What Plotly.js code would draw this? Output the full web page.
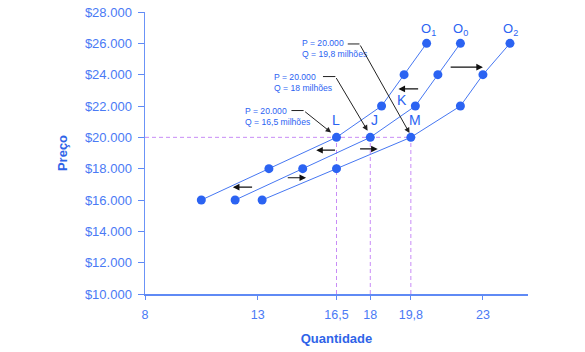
<!DOCTYPE html>
<html>
<head>
<meta charset="utf-8">
<script src="https://cdn.plot.ly/plotly-3.0.1.min.js"></script>
<style>html,body{margin:0;padding:0;background:#fff;}#chart{width:585px;height:352px;}</style>
</head>
<body>
<div id="chart"></div>
<script>
// ---- data ----
var prices = [16000, 18000, 20000, 22000, 24000, 26000];
var qO1 = [10.5, 13.5, 16.5, 18.5, 19.5, 20.5];
var qO0 = [12, 15, 18, 20, 21, 22];
var qO2 = [13.2, 16.5, 19.8, 22, 23, 24.2];
var curveNames = ["O<sub>1</sub>", "O<sub>0</sub>", "O<sub>2</sub>"];

var eqPrice = 20000;
var eqQty = [16.5, 18, 19.8];
var eqLetters = ["L", "J", "M"];
var eqLetterX = [16.49, 18.19, 19.97];
var eqLetterY = 21080;

var xTickVals = [8, 13, 16.5, 18, 19.8, 23];
var xTickText = ["8", "13", "16,5", "18", "19,8", "23"];
var yTickVals = [10000, 12000, 14000, 16000, 18000, 20000, 22000, 24000, 26000, 28000];
var yTickText = ["$10.000", "$12.000", "$14.000", "$16.000", "$18.000", "$20.000", "$22.000", "$24.000", "$26.000", "$28.000"];

var calloutText = [
  "P = 20.000<br>Q = 16,5 milhões",
  "P = 20.000<br>Q = 18 milhões",
  "P = 20.000<br>Q = 19,8 milhões"
];
// text anchor (left, middle)
var calloutTextX = [12.37, 13.63, 14.87];
var calloutTextY = [21350, 23530, 25650];
// bent leader line: start, bend, tip
var calloutStartX = [14.5, 15.9, 17.0];
var calloutBendX = [15.04, 16.45, 17.52];
var calloutLineY = [21710, 23880, 25960];
var calloutTipX = [16.26, 17.88, 19.74];
var calloutTipY = [20310, 20420, 20270];

// shift arrows (tail -> head)
var shiftTailX = [16.5, 17.48, 12.82, 14.27, 20.19, 21.5];
var shiftHeadX = [15.6, 18.33, 11.9, 15.15, 19.25, 23.0];
var shiftY = [19180, 19260, 16820, 17420, 23090, 24480];

var kLabel = {text: "K", x: 19.41, y: 22390};
var curveLabelX = [20.57, 22.0, 24.22];
var curveLabelY = 26900;

// ---- styles ----
var blue = "#2b63f2";
var lineBlue = "#4677f2";
var tickBlue = "#4a7af5";
var dashCol = "#c88cf6";
var fam = "Liberation Sans, Arial, sans-serif";

var traces = [];
// dashed guides
traces.push({x: [8, eqQty[2]], y: [eqPrice, eqPrice], mode: "lines",
  line: {color: dashCol, width: 1, dash: "4px,3px"}, hoverinfo: "skip", showlegend: false});
eqQty.forEach(function (q) {
  traces.push({x: [q, q], y: [10000, eqPrice], mode: "lines",
    line: {color: dashCol, width: 1, dash: "4px,3px"}, hoverinfo: "skip", showlegend: false});
});
// callout horizontal segments
for (var i = 0; i < calloutText.length; i++) {
  traces.push({x: [calloutStartX[i], calloutBendX[i]], y: [calloutLineY[i], calloutLineY[i]],
    mode: "lines", line: {color: "#222", width: 1}, hoverinfo: "skip", showlegend: false});
}
// supply curves
[qO1, qO0, qO2].forEach(function (q, k) {
  traces.push({x: q, y: prices, mode: "lines+markers", name: curveNames[k],
    line: {color: lineBlue, width: 1}, marker: {color: blue, size: 9}, showlegend: false, cliponaxis: false});
});

var ann = [];
for (var i = 0; i < calloutText.length; i++) {
  ann.push({text: calloutText[i], x: calloutTextX[i], y: calloutTextY[i], xref: "x", yref: "y",
    xanchor: "left", yanchor: "middle", align: "left", showarrow: false,
    font: {family: fam, size: 8.6, color: blue}});
  ann.push({text: "", x: calloutTipX[i], y: calloutTipY[i], ax: calloutBendX[i], ay: calloutLineY[i],
    xref: "x", yref: "y", axref: "x", ayref: "y", showarrow: true, arrowhead: 2, arrowsize: 1.1,
    arrowwidth: 1, arrowcolor: "#222", standoff: 0});
}
for (var j = 0; j < shiftY.length; j++) {
  ann.push({text: "", x: shiftHeadX[j], y: shiftY[j], ax: shiftTailX[j], ay: shiftY[j],
    xref: "x", yref: "y", axref: "x", ayref: "y", showarrow: true, arrowhead: 2, arrowsize: 1.1,
    arrowwidth: 1.2, arrowcolor: "#111", standoff: 0});
}
for (var e = 0; e < eqLetters.length; e++) {
  ann.push({text: eqLetters[e], x: eqLetterX[e], y: eqLetterY, xref: "x", yref: "y", showarrow: false,
    font: {family: fam, size: 14, color: blue}});
}
ann.push({text: kLabel.text, x: kLabel.x, y: kLabel.y, xref: "x", yref: "y", showarrow: false,
  font: {family: fam, size: 14, color: blue}});
for (var c = 0; c < curveNames.length; c++) {
  ann.push({text: curveNames[c], x: curveLabelX[c], y: curveLabelY, xref: "x", yref: "y", showarrow: false,
    font: {family: fam, size: 13, color: blue}});
}

var layout = {
  width: 585, height: 352,
  margin: {l: 145, r: 57, t: 12, b: 58},
  paper_bgcolor: "#fff", plot_bgcolor: "#fff",
  font: {family: fam, color: tickBlue, size: 12},
  xaxis: {range: [8, 25], showgrid: false, zeroline: false, showline: true, linecolor: "#5f8af5", linewidth: 1.5,
    ticks: "outside", ticklen: 4, tickcolor: "#5f8af5", tickvals: xTickVals, ticktext: xTickText,
    ticklabelstandoff: 4,
    tickfont: {size: 12.5, color: tickBlue},
    title: {text: "<b>Quantidade</b>", standoff: 13, font: {size: 13, color: "#2f64e8", family: fam}}},
  yaxis: {range: [10000, 28000], showgrid: false, zeroline: false, showline: true, linecolor: "#6b93f7", linewidth: 1.5,
    ticks: "outside", ticklen: 6, tickcolor: "#5f8af5", tickvals: yTickVals, ticktext: yTickText,
    ticklabelstandoff: 3,
    tickfont: {size: 13, color: tickBlue},
    title: {text: "<b>Preço</b>", standoff: 14, font: {size: 13, color: "#2f64e8", family: fam}}},
  annotations: ann,
  showlegend: false
};

Plotly.newPlot("chart", traces, layout, {displayModeBar: false, staticPlot: true});
</script>
</body>
</html>
